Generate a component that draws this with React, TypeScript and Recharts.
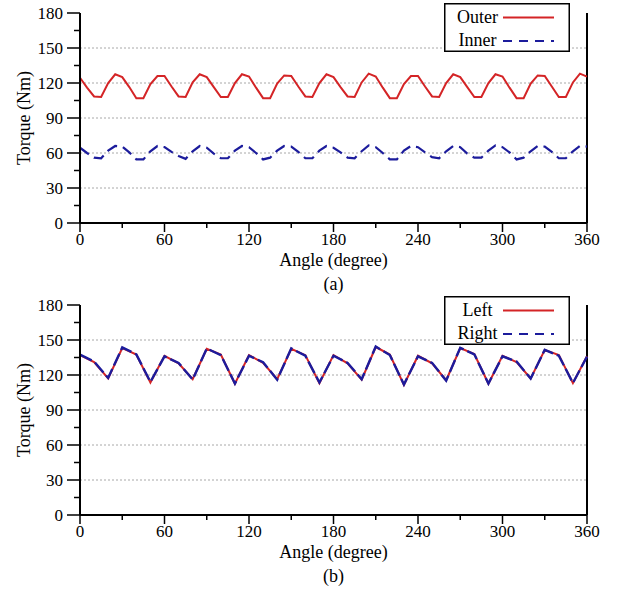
import React from 'react'
import { LineChart, Line, XAxis, YAxis, ReferenceLine, Legend } from 'recharts'

// (a) outer / inner rotor torque, sampled every 5 degrees
const angles5 = [
  0, 5, 10, 15, 20, 25, 30, 35, 40, 45, 50, 55, 60, 65, 70, 75, 80, 85, 90,
  95, 100, 105, 110, 115, 120, 125, 130, 135, 140, 145, 150, 155, 160, 165, 170, 175, 180,
  185, 190, 195, 200, 205, 210, 215, 220, 225, 230, 235, 240, 245, 250, 255, 260, 265, 270,
  275, 280, 285, 290, 295, 300, 305, 310, 315, 320, 325, 330, 335, 340, 345, 350, 355, 360,
]
const outer = [
  124.5, 116, 108.5, 108, 120, 127.5, 125, 116.5, 107, 107, 119, 126, 126, 117, 108.5, 108, 120.5, 127.5, 125,
  116.5, 108, 108, 120, 127.5, 125.5, 116, 107, 107, 119.5, 126.5, 126, 117, 108.5, 108, 120, 127.5, 125,
  116.5, 108.5, 108, 120.5, 128, 125.5, 116, 107, 107, 119, 126, 126, 117, 108.5, 108, 120, 127.5, 125,
  116.5, 108, 108, 120, 127.5, 125.5, 116, 107, 107, 119.5, 126.5, 126, 117, 108, 108, 120.5, 128, 125.5,
]
const inner = [
  64.5, 60, 56, 55.5, 62, 66, 65.5, 60.5, 54.5, 54.5, 61.5, 66, 65, 61, 57.5, 55, 61.5, 66, 64.5,
  59.5, 55.5, 55.5, 62, 66, 65, 60, 54.5, 56, 62, 66, 65.5, 61, 55.5, 55.5, 62, 66, 64.5,
  60.5, 56, 55.5, 61.5, 66.5, 65, 60, 54.5, 54.5, 62, 66, 65, 60.5, 56.5, 55.5, 61.5, 66, 65,
  59.5, 56, 56, 62, 66.5, 65, 60.5, 54.5, 56, 61.5, 66, 65.5, 61, 55.5, 55.5, 61.5, 66, 65.5,
]

// (b) left / right torque, sampled every 10 degrees
const angles10 = [
  0, 10, 20, 30, 40, 50, 60, 70, 80, 90, 100, 110, 120, 130, 140, 150, 160, 170, 180,
  190, 200, 210, 220, 230, 240, 250, 260, 270, 280, 290, 300, 310, 320, 330, 340, 350, 360,
]
const left = [
  137, 131, 117, 143, 137.5, 113.5, 136.5, 130, 116.5, 142.5, 137.5, 112.5, 137, 130.5, 116.5, 142.5, 137, 113, 137,
  130, 116, 144, 137.5, 111.5, 136.5, 130, 115.5, 143, 138, 112.5, 136.5, 131, 117, 141.5, 137, 113, 136,
]
const right = [
  137.4, 131.5, 117.5, 143.6, 137.7, 114.1, 136, 130.4, 116.1, 142.7, 137.1, 112.7, 136.5, 131, 116, 142.7, 136.5, 113.6, 136.5,
  130.4, 116.3, 144.4, 137.1, 111.9, 136, 130.4, 115.2, 143.3, 137.7, 112.7, 136, 131.5, 116.9, 141.6, 136.5, 113.2, 135.7,
]

const xTicks = [0, 30, 60, 90, 120, 150, 180, 210, 240, 270, 300, 330, 360]
const yTicks = [0, 15, 30, 45, 60, 75, 90, 105, 120, 135, 150, 165, 180]
const gridValues = [30, 60, 90, 120, 150]

const FONT = '"Liberation Serif", "Times New Roman", Times, serif'
const RED = '#d42426'
const BLUE = '#1c1c9c'

const dataA = angles5.map((a, i) => ({ angle: a, outer: outer[i], inner: inner[i] }))
const dataB = angles10.map((a, i) => ({ angle: a, left: left[i], right: right[i] }))

type Series = { key: string; name: string; color: string; width: number; dash?: string; legendDash?: string }

const seriesA: Series[] = [
  { key: 'outer', name: 'Outer', color: RED, width: 2 },
  { key: 'inner', name: 'Inner', color: BLUE, width: 2.2, dash: '11 6', legendDash: '9 7' },
]
const seriesB: Series[] = [
  { key: 'left', name: 'Left', color: RED, width: 2 },
  { key: 'right', name: 'Right', color: BLUE, width: 2.4, dash: '13 4', legendDash: '9 7' },
]

function BottomTick({ x, y, payload }: any) {
  const major = payload.value % 60 === 0
  return (
    <g>
      <line x1={x} x2={x} y1={y} y2={y + (major ? 9 : 5)} stroke="#000" strokeWidth={1.5} />
      {major && (
        <text x={x} y={y + 16.5} textAnchor="middle" dominantBaseline="central" fontSize={17} fontFamily={FONT} fill="#000">
          {payload.value}
        </text>
      )}
    </g>
  )
}

function TopTick({ x, y, payload }: any) {
  const major = payload.value % 60 === 0
  if (payload.value === 0 || payload.value === 360) return <g />
  return <line x1={x} x2={x} y1={y} y2={y + (major ? 9 : 5)} stroke="#000" strokeWidth={1.5} />
}

function LeftTick({ x, y, payload }: any) {
  const major = payload.value % 30 === 0
  return (
    <g>
      <line x1={x - (major ? 13 : 6)} x2={x} y1={y} y2={y} stroke="#000" strokeWidth={1.5} />
      {major && (
        <text x={x - 17} y={y} textAnchor="end" dominantBaseline="central" fontSize={17} fontFamily={FONT} fill="#000">
          {payload.value}
        </text>
      )}
    </g>
  )
}

function LegendBox({ items }: { items: Series[] }) {
  return (
    <svg width={126} height={49} style={{ display: 'block' }}>
      <rect x={0.75} y={0.75} width={124.5} height={47.5} fill="#fff" stroke="#000" strokeWidth={1.5} />
      {items.map((s, i) => (
        <g key={s.key}>
          <text x={33.5} y={13.5 + i * 23.5} textAnchor="middle" dominantBaseline="central" fontSize={18} fontFamily={FONT} fill="#000">
            {s.name}
          </text>
          <line x1={59} x2={110} y1={14.5 + i * 23.5} y2={14.5 + i * 23.5} stroke={s.color} strokeWidth={2} strokeDasharray={s.legendDash} />
        </g>
      ))}
    </svg>
  )
}

function TorquePanel({ data, series, caption, height, legendTop }: {
  data: any[]; series: Series[]; caption: string; height: number; legendTop: number
}) {
  const axisStroke = { stroke: '#000', strokeWidth: 2 }
  return (
    <LineChart width={623} height={height} data={data} margin={{ top: 13, right: 36, bottom: 43 + (height - 296), left: 30 }}>
      {gridValues.map((v) => (
        <ReferenceLine key={v} y={v} stroke="#a8a8a8" strokeWidth={1} strokeDasharray="2 2" />
      ))}
      <XAxis
        dataKey="angle" type="number" domain={[0, 360]} ticks={xTicks} interval={0}
        height={30} tickSize={0} tickMargin={0} tickLine={false} axisLine={axisStroke}
        tick={<BottomTick />}
        label={{
          content: ({ viewBox }: any) => {
            const cx = viewBox.x + viewBox.width / 2
            return (
              <g fontFamily={FONT} fill="#000">
                <text x={cx} y={viewBox.y + 37} textAnchor="middle" dominantBaseline="central" fontSize={18}>Angle (degree)</text>
                <text x={cx} y={viewBox.y + 61} textAnchor="middle" dominantBaseline="central" fontSize={18}>{caption}</text>
              </g>
            )
          },
        }}
      />
      <XAxis
        xAxisId="top" orientation="top" dataKey="angle" type="number" domain={[0, 360]} ticks={xTicks} interval={0}
        height={0} tickSize={0} tickMargin={0} tickLine={false} axisLine={axisStroke} tick={<TopTick />}
      />
      <YAxis
        type="number" domain={[0, 180]} ticks={yTicks} interval={0} width={50}
        tickSize={0} tickMargin={0} tickLine={false} axisLine={axisStroke} tick={<LeftTick />}
        label={{
          content: ({ viewBox }: any) => {
            const cy = viewBox.y + viewBox.height / 2
            return (
              <text x={24} y={cy} transform={`rotate(-90, 24, ${cy})`} textAnchor="middle" dominantBaseline="central" fontSize={18} fontFamily={FONT} fill="#000">
                Torque (Nm)
              </text>
            )
          },
        }}
      />
      <ReferenceLine x={360} stroke="#000" strokeWidth={2} />
      {series.map((s) => (
        <Line
          key={s.key} dataKey={s.key} name={s.name} type="linear" stroke={s.color} strokeWidth={s.width}
          strokeDasharray={s.dash} dot={false} activeDot={false} isAnimationActive={false}
        />
      ))}
      <Legend
        layout="vertical" align="center" verticalAlign="middle"
        wrapperStyle={{ top: legendTop, left: 444, width: 126, height: 49 }}
        content={() => <LegendBox items={series} />}
      />
    </LineChart>
  )
}

export default function App() {
  return (
    <div style={{ position: 'absolute', left: 0, top: 0, width: 623, height: 593, background: '#fff' }}>
      <div style={{ position: 'absolute', left: 0, top: 0 }}>
        <TorquePanel data={dataA} series={seriesA} caption="(a)" height={296} legendTop={3} />
      </div>
      <div style={{ position: 'absolute', left: 0, top: 292 }}>
        <TorquePanel data={dataB} series={seriesB} caption="(b)" height={301} legendTop={4} />
      </div>
    </div>
  )
}
